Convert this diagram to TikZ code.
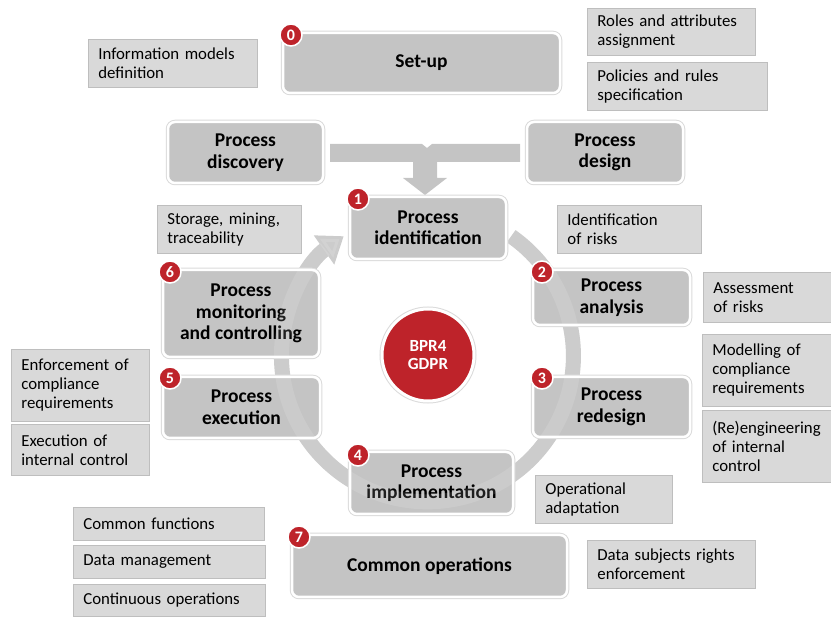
\documentclass[tikz,border=0pt]{standalone}
\usepackage{fontspec}
\setmainfont{Carlito}
\usetikzlibrary{arrows.meta}
\definecolor{procfill}{RGB}{196,196,196}
\definecolor{notefill}{RGB}{217,217,217}
\definecolor{noteline}{RGB}{190,190,190}
\definecolor{ringc}{RGB}{197,197,197}
\definecolor{badgered}{RGB}{190,35,42}
\definecolor{edgegray}{RGB}{218,218,218}
\tikzset{
 proc/.style={rounded corners=7pt, fill=procfill, draw=white, line width=2.5pt,
   preaction={draw=edgegray, line width=4.5pt},
   font=\fontsize{19.5}{21.5}\selectfont\bfseries, align=center, inner sep=0pt},
 note/.style={fill=notefill, draw=noteline, line width=0.8pt,
   font=\fontsize{16.8}{19}\selectfont, align=left, anchor=north west,
   inner xsep=10pt, inner ysep=0pt},
 badge/.style={circle, fill=badgered, draw=white, line width=1.5pt, minimum size=22pt,
   inner sep=0pt, text=white, font=\fontsize{16}{16}\selectfont\bfseries},
 hub/.style={circle, fill=badgered, draw=white, line width=3pt,
   preaction={draw=edgegray, line width=5pt}, minimum size=92pt, inner sep=0pt,
   text=white, align=center, font=\fontsize{17}{18.5}\selectfont\bfseries},
 ringarrow/.style={line width=15pt, -{Triangle[length=24pt,width=34pt]}}
}
\begin{document}
\begin{tikzpicture}[x=1pt,y=-1pt]
\useasboundingbox (0,0) rectangle (831,617);
% ring
\coordinate (ctr) at (428,355);
\draw[ringc, ringarrow]
  (ctr) ++(-55:145) arc[start angle=-55, end angle=235, radius=146];
% merge arrow
\fill[procfill] (330,144) -- (422,144) -- (427,148) -- (432,144) -- (520,144) -- (520,162)
  -- (437,162) -- (437,178) -- (447,178) -- (425,195) -- (403,178) -- (413,178)
  -- (413,162) -- (330,162) -- cycle;
% process boxes
\node[proc, minimum width=277pt, minimum height=60pt] (setup) at (421.5,63) {Set-up};
\node[proc, minimum width=155pt, minimum height=61pt] (disc) at (245.5,152.5) {Process\\discovery};
\node[proc, minimum width=156pt, minimum height=61pt] (design) at (605,152.5) {Process\\design};
\node[proc, minimum width=156pt, minimum height=62pt] (ident) at (428,228) {Process\\identification};
\node[proc, minimum width=157pt, minimum height=55pt] (anal) at (611.5,297.5) {Process\\analysis};
\node[proc, minimum width=157pt, minimum height=60pt] (redes) at (611.5,407) {Process\\redesign};
\node[proc, minimum width=163pt, minimum height=62pt] (impl) at (431.5,483) {Process\\implementation};
\node[proc, minimum width=157pt, minimum height=61pt] (exec) at (241.5,407.5) {Process\\execution};
\node[proc, minimum width=156pt, minimum height=87pt] (mon) at (241,313.5) {Process\\monitoring\\and controlling};
\node[proc, minimum width=275pt, minimum height=62pt] (common) at (429.5,566) {Common operations};
% faint ring showing through the boxes
\draw[white, opacity=0.12, ringarrow]
  (ctr) ++(-55:145) arc[start angle=-55, end angle=235, radius=146];
% hub
\node[hub] (hubn) at (ctr) {BPR4\\GDPR};
% badges
\node[badge] (b0) at (291,35) {0};
\node[badge] (b1) at (358,199) {1};
\node[badge] (b2) at (542,272) {2};
\node[badge] (b3) at (542,378) {3};
\node[badge] (b4) at (358,455) {4};
\node[badge] (b5) at (170,378) {5};
\node[badge] (b6) at (170,272) {6};
\node[badge] (b7) at (299,537) {7};
% notes
\node[note, text width=149pt, minimum height=48pt] (n1) at (88,39) {Information models\\definition};
\node[note, text width=148pt, minimum height=47pt] (n2) at (587,8) {Roles and attributes\\assignment};
\node[note, text width=160pt, minimum height=48pt] (n3) at (587,62) {Policies and rules\\specification};
\node[note, text width=124pt, minimum height=48pt] (n4) at (157,205) {Storage, mining,\\traceability};
\node[note, text width=124pt, minimum height=48pt] (n5) at (557,205) {Identification\\of risks};
\node[note, text width=118pt, minimum height=50pt] (n6) at (703,272) {Assessment\\of risks};
\node[note, text width=118pt, minimum height=72pt] (n7) at (702,334) {Modelling of\\compliance\\requirements};
\node[note, text width=118pt, minimum height=72pt] (n8) at (702,410) {(Re)engineering\\of internal\\control};
\node[note, text width=117pt, minimum height=48pt] (n9) at (535,475) {Operational\\adaptation};
\node[note, text width=118pt, minimum height=72pt] (n10) at (11,349) {Enforcement of\\compliance\\requirements};
\node[note, text width=118pt, minimum height=51pt] (n11) at (11,424) {Execution of\\internal control};
\node[note, text width=171pt, minimum height=33pt] (n12) at (73,507) {Common functions};
\node[note, text width=172pt, minimum height=33pt] (n13) at (73,545) {Data management};
\node[note, text width=172pt, minimum height=32pt] (n14) at (73,584) {Continuous operations};
\node[note, text width=148pt, minimum height=48pt] (n15) at (587,540) {Data subjects rights\\enforcement};
\end{tikzpicture}
\end{document}
